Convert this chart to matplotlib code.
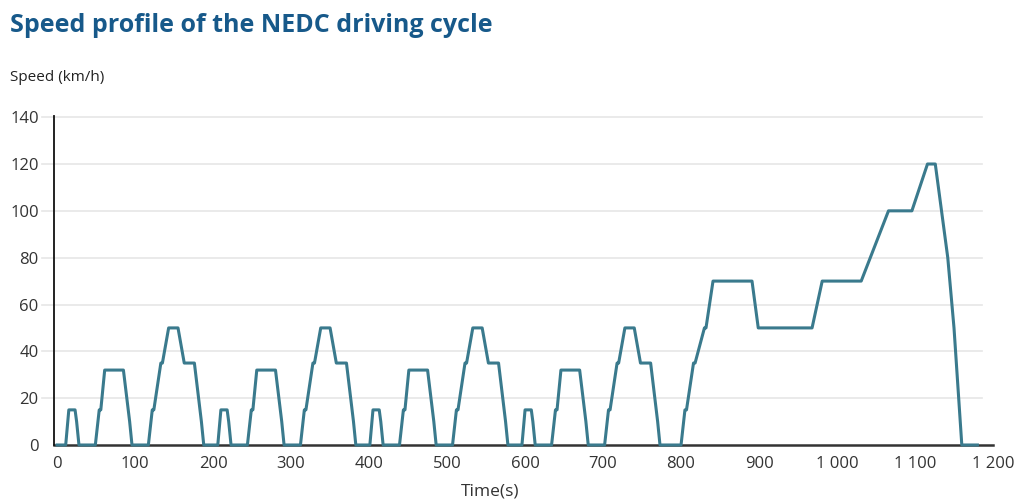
import matplotlib
matplotlib.use("Agg")
import matplotlib.pyplot as plt
from matplotlib.ticker import FuncFormatter

# ECE-15 urban segment (time s, speed km/h), repeated 4 times
ece_time = [0, 11, 15, 23, 25, 28, 49, 54, 56, 61, 85, 93, 96, 117, 122, 124,
            133, 135, 143, 155, 163, 176, 185, 188, 195]
ece_speed = [0, 0, 15, 15, 10, 0, 0, 15, 15, 32, 32, 10, 0, 0, 15, 15,
             35, 35, 50, 50, 35, 35, 10, 0, 0]
ece_starts = [0, 195, 390, 585]

# EUDC extra-urban segment (absolute time s, speed km/h)
eudc_time = [780, 800, 805, 807, 816, 818, 830, 832, 841, 891, 899, 968, 981,
             1031, 1066, 1096, 1116, 1126, 1142, 1150, 1160, 1180]
eudc_speed = [0, 0, 15, 15, 35, 35, 50, 50, 70, 70, 50, 50, 70,
              70, 100, 100, 120, 120, 80, 50, 0, 0]

y_ticks = [0, 20, 40, 60, 80, 100, 120, 140]
x_ticks = [0, 100, 200, 300, 400, 500, 600, 700, 800, 900, 1000, 1100, 1200]

plt.rcParams['font.family'] = ['Open Sans', 'DejaVu Sans']

times, speeds = [], []
for s in ece_starts:
    for t, v in zip(ece_time, ece_speed):
        times.append(s + t)
        speeds.append(v)
times += eudc_time
speeds += eudc_speed

fig = plt.figure(figsize=(10.2, 4.99), dpi=100)
ax = fig.add_axes([54/1020, 1-445/499, (993-54)/1020, (445-116)/499])

line_color = "#3a7a8d"
ax.plot(times, speeds, color=line_color, lw=2.2, solid_joinstyle='round', zorder=3, clip_on=False)

ax.set_xlim(-4, 1200)
ax.set_ylim(0, 140.5)
for y in y_ticks[1:]:
    ax.axhline(y, xmin=-0.013, xmax=0.988, color="#e6e6e6", lw=1.2, zorder=1, clip_on=False)

ax.set_yticks(y_ticks)
ax.set_xticks(x_ticks)
ax.xaxis.set_major_formatter(FuncFormatter(lambda v, p: f"{int(v):,}".replace(",", " ")))
ax.tick_params(axis='both', length=0, labelsize=12, colors="#333333")
ax.tick_params(axis='x', pad=8)
ax.tick_params(axis='y', pad=11)
for lab in ax.get_yticklabels():
    lab.set_horizontalalignment('right')

for side in ['top', 'right']:
    ax.spines[side].set_visible(False)
ax.spines['left'].set_color("#111111")
ax.spines['left'].set_linewidth(1.3)
ax.spines['bottom'].set_color("#333333")
ax.spines['bottom'].set_linewidth(1.8)
ax.spines['bottom'].set_zorder(2)

fig.text(10/1020, 1-25/499, "Speed profile of the NEDC driving cycle", fontsize=18,
         fontweight='bold', color="#17598a", va='center', ha='left')
fig.text(10/1020, 1-78/499, "Speed (km/h)", fontsize=11, color="#222222",
         va='center', ha='left')
fig.text(490/1020, 1-492/499, "Time(s)", fontsize=12.5, color="#333333",
         va='center', ha='center')

fig.savefig("out.png", dpi=100, facecolor="white")
